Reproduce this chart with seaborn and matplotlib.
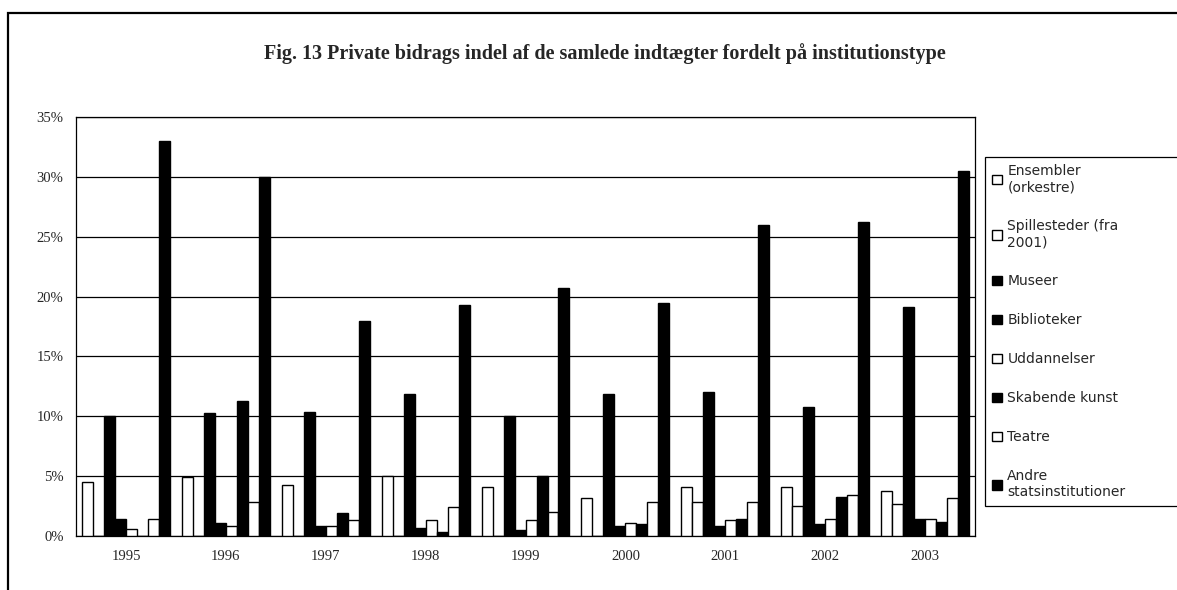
import pandas as pd
import seaborn as sns
import matplotlib.pyplot as plt
from matplotlib.patches import Rectangle
from matplotlib.ticker import FuncFormatter, MultipleLocator

# =====================================================
# DATA (andel i procent)
# =====================================================

aar = ["1995", "1996", "1997", "1998", "1999", "2000", "2001", "2002", "2003"]

institutioner = [
    "Ensembler\n(orkestre)",
    "Spillesteder (fra\n2001)",
    "Museer",
    "Biblioteker",
    "Uddannelser",
    "Skabende kunst",
    "Teatre",
    "Andre\nstatsinstitutioner",
]

ensembler = [4.5, 4.9, 4.3, 5.0, 4.1, 3.2, 4.1, 4.1, 3.8]
spillesteder = [0.0, 0.0, 0.0, 0.0, 0.0, 0.0, 2.8, 2.5, 2.7]
museer = [10.0, 10.3, 10.4, 11.9, 10.0, 11.9, 12.0, 10.8, 19.1]
biblioteker = [1.4, 1.1, 0.8, 0.7, 0.5, 0.8, 0.8, 1.0, 1.4]
uddannelser = [0.6, 0.8, 0.8, 1.3, 1.3, 1.1, 1.3, 1.4, 1.4]
skabende_kunst = [0.0, 11.3, 1.9, 0.3, 5.0, 1.0, 1.4, 3.3, 1.2]
teatre = [1.4, 2.8, 1.3, 2.4, 2.0, 2.8, 2.8, 3.4, 3.2]
andre = [33.0, 30.0, 18.0, 19.3, 20.7, 19.5, 26.0, 26.2, 30.5]

serier = [ensembler, spillesteder, museer, biblioteker,
          uddannelser, skabende_kunst, teatre, andre]

farver = ["white", "white", "black", "black", "white", "black", "white", "black"]

# =====================================================
# LANG FORM TIL SEABORN
# =====================================================

rows = []
for navn, vaerdier in zip(institutioner, serier):
    for a, v in zip(aar, vaerdier):
        rows.append({"Aar": a, "Institution": navn, "Andel": v})
df = pd.DataFrame(rows)

# =====================================================
# FIGUR
# =====================================================

sns.set_style("white")
plt.rcParams["font.family"] = ["Liberation Serif", "DejaVu Serif"]

fig = plt.figure(figsize=(11.77, 5.90), dpi=100)
ax = fig.add_axes([0.0646, 0.0915, 0.7638, 0.7102])

sns.barplot(
    data=df,
    x="Aar",
    y="Andel",
    hue="Institution",
    hue_order=institutioner,
    order=aar,
    palette=farver,
    width=0.88,
    gap=0,
    edgecolor="black",
    linewidth=1.0,
    saturation=1,
    errorbar=None,
    legend=True,
    ax=ax,
    zorder=3,
)

# =====================================================
# AKSER OG GITTER
# =====================================================

ax.set_ylim(0, 35)
ax.yaxis.set_major_locator(MultipleLocator(5))
ax.yaxis.set_major_formatter(FuncFormatter(lambda v, p: f"{v:.0f}%"))
ax.grid(axis="y", color="black", linewidth=0.9, zorder=0)
ax.set_axisbelow(True)

ax.set_xlabel("")
ax.set_ylabel("")
ax.set_xlim(-0.5, len(aar) - 0.5)

ax.tick_params(axis="y", which="major", direction="out", length=5,
               width=0.9, color="black", labelsize=10.5, pad=4)
ax.tick_params(axis="x", which="major", length=0, labelsize=10.5, pad=10)
ax.set_xticks([i + 0.5 for i in range(len(aar) - 1)], minor=True)
ax.tick_params(axis="x", which="minor", direction="out", length=5,
               width=0.9, color="black")

for side in ["left", "bottom", "right", "top"]:
    ax.spines[side].set_visible(True)
    ax.spines[side].set_color("black")
    ax.spines[side].set_linewidth(0.9)

# =====================================================
# TITEL
# =====================================================

fig.text(0.5135, 0.910,
         "Fig. 13 Private bidrags indel af de samlede indtægter fordelt på institutionstype",
         ha="center", va="center", fontsize=14.5, fontweight="bold")

# =====================================================
# LEGENDE (boksen går ud over billedkanten som i originalen)
# =====================================================

handles, labels = ax.get_legend_handles_labels()
ax.get_legend().remove()
leg = fig.legend(
    handles, labels,
    loc="upper left",
    bbox_to_anchor=(0.837, 0.0, 0.175, 0.734),
    mode="expand",
    borderaxespad=0,
    frameon=True,
    fancybox=False,
    edgecolor="black",
    framealpha=1,
    handlelength=0.7,
    handleheight=0.7,
    handletextpad=0.4,
    labelspacing=1.8,
    borderpad=0.5,
    prop={"family": ["DejaVu Sans"], "size": 10},
)
leg.get_frame().set_linewidth(0.9)

# =====================================================
# RAMME OM HELE FIGUREN
# =====================================================

fig.add_artist(Rectangle((0.0068, -0.05), 1.1, 1.0280, transform=fig.transFigure,
                         fill=False, edgecolor="black", linewidth=1.6))

fig.savefig("out.png", dpi=100)
plt.close(fig)
